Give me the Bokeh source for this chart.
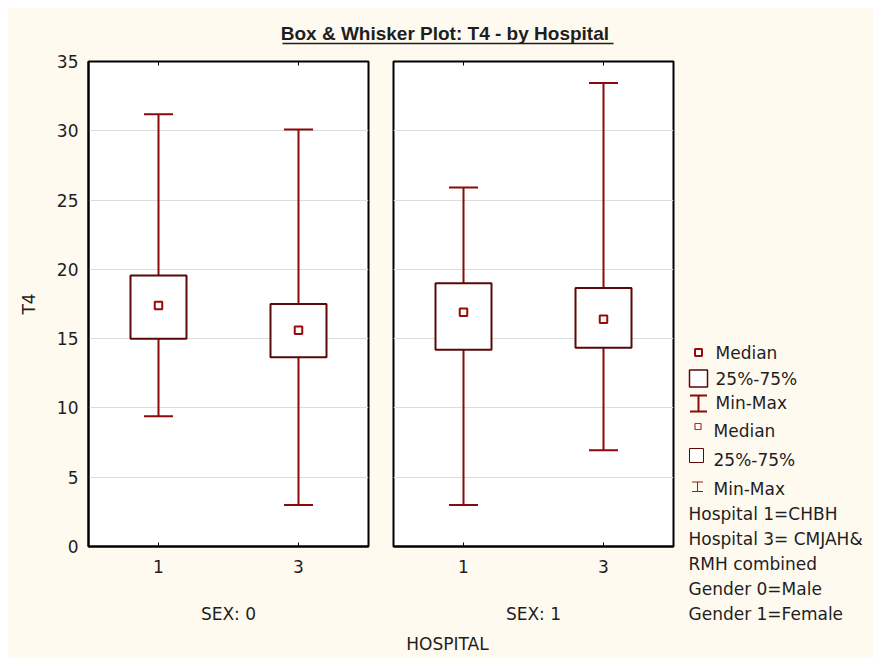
import math
from bokeh.plotting import figure
from bokeh.layouts import column, row
from bokeh.models import Range1d, FixedTicker
from bokeh.core.properties import value
from bokeh.embed import file_html
from bokeh.resources import INLINE

# ---------------- data ----------------
hosp_pos = [1, 3]
hosp_labels = {1: "1", 3: "3"}
sex_labels = ["SEX: 0", "SEX: 1"]
y_ticks = [0, 5, 10, 15, 20, 25, 30, 35]

sex0_min = [9.4, 3.0]
sex0_q1 = [15.0, 13.65]
sex0_med = [17.4, 15.6]
sex0_q3 = [19.55, 17.5]
sex0_max = [31.2, 30.1]

sex1_min = [3.0, 6.95]
sex1_q1 = [14.2, 14.35]
sex1_med = [16.9, 16.4]
sex1_q3 = [19.0, 18.65]
sex1_max = [25.9, 33.45]

title_text = "Box & Whisker Plot:  T4 - by Hospital"
x_title = "HOSPITAL"
y_title = "T4"
legend_keys = ["Median", "25%-75%", "Min-Max", "Median", "25%-75%", "Min-Max"]
legend_notes = ["Hospital 1=CHBH", "Hospital 3= CMJAH&", "RMH combined",
                "Gender 0=Male", "Gender 1=Female"]

# ---------------- style ----------------
CREAM = "#FFFAF0"
WHISK = "#8C0A0A"
BOX = "#5A0808"
MED = "#9A0A0A"
TXT = "#1E1E1E"
FONT = "DejaVu Sans"
FS = "17px"
ROW_H = 582
TOP_B = 13
BOT_B = 84
BG = {"background-color": CREAM}


def strip(width, height, x0, x1, y_top, y_bot):
    f = figure(width=width, height=height, x_range=Range1d(x0, x1),
               y_range=Range1d(y_bot, y_top), output_backend="svg",
               toolbar_location=None, x_axis_location=None, y_axis_location=None,
               min_border=0, min_border_left=0, min_border_right=0,
               min_border_top=0, min_border_bottom=0,
               background_fill_color=CREAM, border_fill_color=CREAM,
               outline_line_color=None)
    f.xgrid.visible = False
    f.ygrid.visible = False
    return f


def panel(mins, q1, med, q3, maxs, label, first):
    p = figure(width=372 if first else 300, height=ROW_H,
               x_range=Range1d(0, 4), y_range=Range1d(y_ticks[0], y_ticks[-1]),
               output_backend="svg", toolbar_location=None,
               min_border_left=80 if first else 13,
               min_border_right=12 if first else 7,
               min_border_top=TOP_B, min_border_bottom=BOT_B,
               background_fill_color="white", border_fill_color=CREAM,
               outline_line_color="black", outline_line_width=2)
    xa = p.xaxis[0]
    xa.ticker = FixedTicker(ticks=hosp_pos)
    xa.major_label_overrides = hosp_labels
    xa.major_tick_in = 4
    xa.major_tick_out = 0
    xa.minor_tick_line_color = None
    xa.major_tick_line_color = "black"
    xa.axis_line_color = "black"
    xa.axis_line_width = 2
    xa.major_label_standoff = 13
    xa.major_label_text_font = FONT
    xa.major_label_text_font_size = FS
    xa.major_label_text_color = TXT
    xa.axis_label = label
    xa.axis_label_standoff = 28
    xa.axis_label_text_font = FONT
    xa.axis_label_text_font_size = FS
    xa.axis_label_text_font_style = "normal"
    xa.axis_label_text_color = TXT

    ya = p.yaxis[0]
    ya.ticker = FixedTicker(ticks=y_ticks)
    p.ygrid.ticker = FixedTicker(ticks=y_ticks)
    if first:
        ya.major_tick_in = 0
        ya.major_tick_out = 0
        ya.minor_tick_line_color = None
        ya.axis_line_color = "black"
        ya.axis_line_width = 2
        ya.major_label_standoff = 10
        ya.major_label_text_font = FONT
        ya.major_label_text_font_size = FS
        ya.major_label_text_color = TXT
        ya.axis_label = y_title
        ya.axis_label_standoff = 15
        ya.axis_label_text_font = FONT
        ya.axis_label_text_font_size = FS
        ya.axis_label_text_font_style = "normal"
        ya.axis_label_text_color = TXT
    else:
        ya.visible = False
    p.xgrid.visible = False
    p.ygrid.grid_line_color = "#DCDCDC"
    p.ygrid.grid_line_width = 1

    # small inward tick marks on the top edge
    p.scatter(x=hosp_pos, y=[y_ticks[-1]] * len(hosp_pos), marker="dash",
              angle=math.pi / 2, size=8, line_color="black", line_width=1)

    # whiskers
    p.segment(x0=hosp_pos, y0=mins, x1=hosp_pos, y1=maxs,
              line_color=WHISK, line_width=2)
    p.scatter(x=hosp_pos, y=maxs, marker="dash", size=29,
              line_color=WHISK, line_width=2)
    p.scatter(x=hosp_pos, y=mins, marker="dash", size=29,
              line_color=WHISK, line_width=2)
    # boxes
    p.vbar(x=hosp_pos, width=0.8, bottom=q1, top=q3,
           fill_color="white", line_color=BOX, line_width=2)
    # medians
    p.scatter(x=hosp_pos, y=med, marker="square", size=7.5,
              fill_color="white", line_color=MED, line_width=2)
    return p


p1 = panel(sex0_min, sex0_q1, sex0_med, sex0_q3, sex0_max, sex_labels[0], True)
p2 = panel(sex1_min, sex1_q1, sex1_med, sex1_q3, sex1_max, sex_labels[1], False)

# ---------------- legend column (page pixel coordinates) ----------------
lg = strip(193, 610, 680, 873, 48, 658)

key_y = [352, 378, 402, 430, 459, 488]
key_tx = [715, 715, 715, 713, 713, 713]
lg.scatter(x=[698], y=[key_y[0]], marker="square", size=7,
           fill_color="white", line_color=MED, line_width=2)
lg.rect(x=[698], y=[key_y[1]], width=18, height=17,
        fill_color="white", line_color=BOX, line_width=1.5)
lg.segment(x0=[698], y0=[395], x1=[698], y1=[411], line_color=WHISK, line_width=2)
lg.scatter(x=[698, 698], y=[395, 411], marker="dash", size=17,
           line_color=WHISK, line_width=2)
lg.scatter(x=[697.5], y=[426], marker="square", size=6,
           fill_color="white", line_color="#B03030", line_width=1.2)
lg.rect(x=[696], y=[455], width=14, height=14,
        fill_color="white", line_color=BOX, line_width=1)
lg.segment(x0=[697], y0=[481.5], x1=[697], y1=[491], line_color="#A01A1A", line_width=1)
lg.scatter(x=[697, 697], y=[481.5, 491], marker="dash", size=11,
           line_color="#A01A1A", line_width=1)

note_y = [513, 538, 563, 588, 613]
lg.text(x=key_tx + [688] * len(legend_notes), y=key_y + note_y,
        text=legend_keys + legend_notes, text_baseline="middle",
        text_align="left", text_font=value(FONT), text_font_size=FS,
        text_color=TXT)

# ---------------- title strip ----------------
tf = strip(865, 40, 8, 873, 8, 48)
tf.text(x=[447], y=[33], text=[title_text], text_align="center",
        text_baseline="middle", text_font=value("Liberation Sans"),
        text_font_size="19px", text_font_style="bold", text_color=TXT)
tf.segment(x0=[282], y0=[43], x1=[613], y1=[43], line_color=TXT, line_width=1.5)

# ---------------- bottom strip (under the two panels) ----------------
bf = strip(672, 28, 8, 680, 630, 658)
bf.text(x=[447], y=[643], text=[x_title], text_align="center",
        text_baseline="middle", text_font=value(FONT), text_font_size=FS,
        text_color=TXT)

left_block = column(row(p1, p2, spacing=0, styles=BG), bf, spacing=0, styles=BG)
layout = column(tf, row(left_block, lg, spacing=0, styles=BG), spacing=0,
                margin=(8, 0, 0, 8), styles=BG)
open("out.html", "w").write(file_html(layout, INLINE))
